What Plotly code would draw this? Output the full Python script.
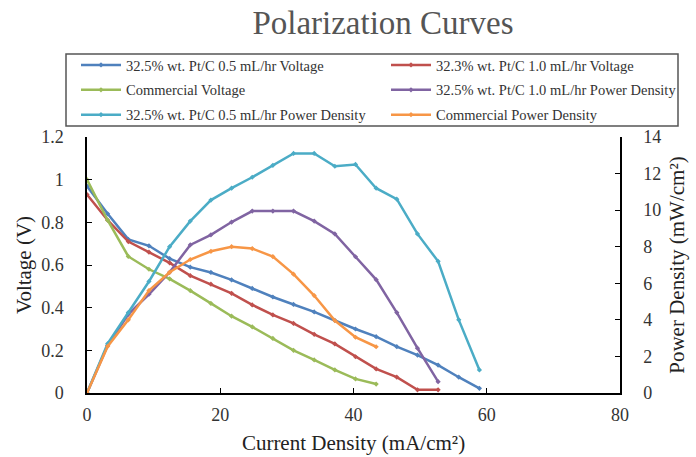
import plotly.graph_objects as go

# Current density grid (mA/cm^2)
current = [0, 3.1, 6.2, 9.3, 12.4, 15.5, 18.6, 21.7, 24.8, 27.9, 31.0, 34.1,
           37.2, 40.3, 43.4, 46.5, 49.6, 52.7, 55.8, 58.9]

v_05 = [0.97, 0.84, 0.72, 0.69, 0.63, 0.59, 0.565, 0.53, 0.49, 0.45, 0.415, 0.38,
        0.34, 0.30, 0.264, 0.217, 0.178, 0.131, 0.074, 0.022]
v_10 = [0.93, 0.81, 0.71, 0.66, 0.61, 0.55, 0.51, 0.467, 0.413, 0.366, 0.326, 0.275,
        0.23, 0.17, 0.113, 0.074, 0.015, 0.015]
v_com = [1.0, 0.81, 0.64, 0.58, 0.535, 0.48, 0.42, 0.36, 0.31, 0.256, 0.20, 0.155,
         0.108, 0.066, 0.042]
p_05 = [0, 2.7, 4.4, 6.1, 8.0, 9.4, 10.55, 11.2, 11.8, 12.45, 13.1, 13.1,
        12.4, 12.5, 11.2, 10.6, 8.7, 7.2, 4.0, 1.26]
p_10 = [0, 2.6, 4.3, 5.4, 6.6, 8.1, 8.65, 9.35, 9.95, 9.95, 9.95, 9.4,
        8.7, 7.45, 6.2, 4.4, 2.45, 0.62]
p_com = [0, 2.55, 4.0, 5.6, 6.6, 7.3, 7.75, 8.0, 7.9, 7.46, 6.5, 5.33,
         3.96, 3.05, 2.53]

names = ["32.5% wt. Pt/C 0.5 mL/hr Voltage", "32.3% wt. Pt/C 1.0 mL/hr Voltage",
         "Commercial Voltage", "32.5% wt. Pt/C 1.0 mL/hr Power Density",
         "32.5% wt. Pt/C 0.5 mL/hr Power Density", "Commercial Power Density"]
colors = ["#4F81BD", "#C0504D", "#9BBB59", "#8064A2", "#4BACC6", "#F79646"]
series = [v_05, v_10, v_com, p_10, p_05, p_com]
axes = ["y", "y", "y", "y2", "y2", "y2"]
legend_ids = ["legend", "legend2", "legend", "legend2", "legend", "legend2"]

fig = go.Figure()
for i, (name, col, vals, ax, lg) in enumerate(zip(names, colors, series, axes, legend_ids)):
    fig.add_trace(go.Scatter(
        x=current[:len(vals)], y=vals, name=name, yaxis=ax,
        mode="lines+markers", legend=lg, legendgroup=f"g{i}",
        line=dict(color=col, width=2.5),
        marker=dict(symbol="diamond", size=4, color=col),
    ))

serif = "Liberation Serif"
axis_common = dict(showline=True, linecolor="#000", linewidth=1.5, ticks="inside",
                   ticklen=5, tickcolor="#000", showgrid=False, zeroline=False,
                   automargin=False,
                   tickfont=dict(family=serif, size=18, color="#333"))

PX0, PW, PY0, PH = 87, 533, 393, 256
def px(x):
    return (x - PX0) / PW
def py(y):
    return (PY0 - y) / PH

leg_common = dict(orientation="v", yanchor="top", y=py(49), xanchor="left",
                  bgcolor="rgba(0,0,0,0)", borderwidth=0, tracegroupgap=3,
                  itemwidth=40,
                  font=dict(family=serif, size=14.5, color="#333"))

fig.update_layout(
    width=696, height=457,
    margin=dict(l=87, r=76, t=137, b=64),
    paper_bgcolor="white", plot_bgcolor="white",
    font=dict(family=serif, color="#222"),
    title=dict(text="Polarization Curves", x=383/696, xanchor="center",
               y=1 - 22/457, yanchor="middle",
               font=dict(family=serif, size=33, color="#555")),
    xaxis=dict(range=[0, 80], dtick=20, ticklabelstandoff=5,
               title=dict(text="Current Density (mA/cm²)", standoff=11,
                          font=dict(family=serif, size=21, color="#222")),
               **axis_common),
    yaxis=dict(range=[0, 1.2], dtick=0.2, ticklabelstandoff=18,
               title=dict(text="Voltage (V)", standoff=4,
                          font=dict(family=serif, size=21, color="#222")),
               **axis_common),
    yaxis2=dict(range=[0, 14], dtick=2, overlaying="y", side="right",
                ticklabelstandoff=18,
                title=dict(text="Power Density (mW/cm²)", standoff=9,
                           font=dict(family=serif, size=21, color="#222")),
                **axis_common),
    legend=dict(x=px(76), **leg_common),
    legend2=dict(x=px(386), **leg_common),
    shapes=[dict(type="rect", xref="paper", yref="paper",
                 x0=px(66), x1=px(678), y0=py(126), y1=py(54),
                 line=dict(color="#555", width=1.5), fillcolor="rgba(0,0,0,0)",
                 layer="above")],
    showlegend=True,
)

fig.write_html("out.html", config={"displayModeBar": False},
               post_script="document.body.style.margin='0';")
